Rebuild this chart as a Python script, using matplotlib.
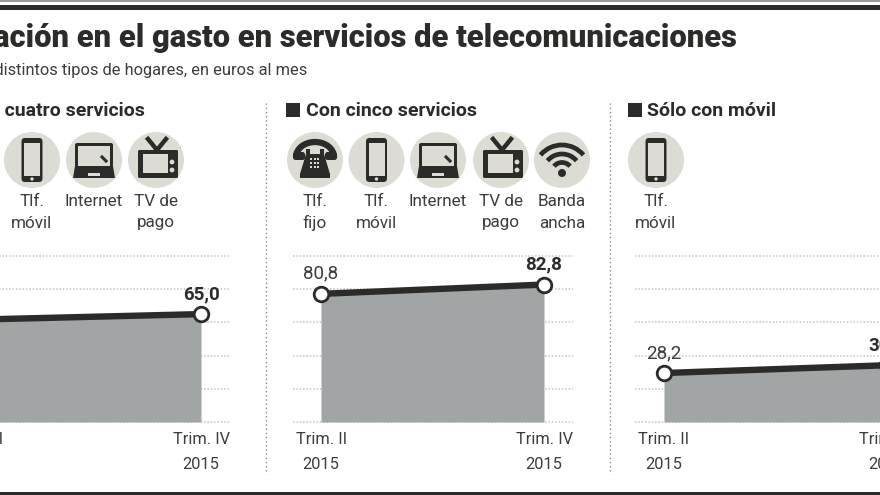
import matplotlib
matplotlib.use("Agg")
import matplotlib.pyplot as plt
from matplotlib.patches import Circle, Rectangle, FancyBboxPatch, Polygon, Arc

INK = "#2b2b29"
TXT = "#3c3c3a"
DISC = "#dcdcd5"
FILL = "#a1a5a5"
GRID = "#c4c4c4"

title = "Variación en el gasto en servicios de telecomunicaciones"
subtitle = "En distintos tipos de hogares, en euros al mes"
headings = ["Con cuatro servicios", "Con cinco servicios", "Sólo con móvil"]
periods = ["Trim. II", "Trim. IV"]
years = ["2015", "2015"]
grid_values = [0, 20, 40, 60, 80, 100]

# alturas, las etiquetas van aparte
heights_cuatro = [61.7, 65.0]
heights_cinco = [77.2, 82.8]
heights_movil = [29.5, 34.2]
labels_cuatro = ["61,7", "65,0"]
labels_cinco = ["80,8", "82,8"]
labels_movil = ["28,2", "30,8"]

W, H = 880, 495
Y0, Y100 = 422, 256

plt.rcParams["font.family"] = ["Roboto", "DejaVu Sans"]
fig = plt.figure(figsize=(8.8, 4.95), dpi=100)

# capa en pixeles para rotulos e iconos
bg = fig.add_axes([0, 0, 1, 1])
bg.set_xlim(0, W)
bg.set_ylim(H, 0)
bg.axis("off")


def phone(cx, cy):
    bg.add_patch(FancyBboxPatch((cx - 10.5, cy - 22), 21, 44, boxstyle="round,pad=0,rounding_size=3.5", fc=INK, ec="none"))
    bg.add_patch(Rectangle((cx - 8, cy - 17), 16, 33, fc=DISC, ec="none"))
    bg.add_patch(Circle((cx, cy + 19), 1.7, fc=DISC, ec="none"))


def laptop(cx, cy):
    bg.add_patch(FancyBboxPatch((cx - 19, cy - 17), 38, 24, boxstyle="round,pad=0,rounding_size=2", fc=INK, ec="none"))
    bg.add_patch(Rectangle((cx - 16, cy - 14), 32, 20, fc=DISC, ec="none"))
    bg.add_patch(Polygon([(cx - 19, cy + 6), (cx + 19, cy + 6), (cx + 21, cy + 18), (cx - 21, cy + 18)], fc=INK, ec="none"))
    bg.add_patch(Rectangle((cx - 6, cy + 13), 12, 3, fc=DISC, ec="none"))
    bg.plot([cx + 8, cx + 12], [cy - 3, cy + 1], color=INK, lw=2.2)


def tv(cx, cy):
    bg.add_patch(FancyBboxPatch((cx - 18, cy - 10), 40, 28, boxstyle="round,pad=0,rounding_size=1.5", fc=INK, ec="none"))
    bg.add_patch(Rectangle((cx - 13, cy - 6), 25, 19, fc=DISC, ec="none"))
    bg.plot([cx - 8, cx + 1], [cy - 21, cy - 10], color=INK, lw=3.2)
    bg.plot([cx + 10, cx + 1], [cy - 21, cy - 10], color=INK, lw=3.2)
    bg.add_patch(Circle((cx + 16, cy + 2), 2.4, fc=DISC, ec="none"))
    bg.add_patch(Circle((cx + 16, cy + 10), 2.4, fc=DISC, ec="none"))


def landline(cx, cy):
    # auricular
    bg.add_patch(Arc((cx, cy - 3), 38, 30, theta1=180, theta2=360, color=INK, lw=4.5))
    bg.add_patch(FancyBboxPatch((cx - 22, cy - 8), 12, 8, boxstyle="round,pad=0,rounding_size=2.5", fc=INK, ec="none"))
    bg.add_patch(FancyBboxPatch((cx + 10, cy - 8), 12, 8, boxstyle="round,pad=0,rounding_size=2.5", fc=INK, ec="none"))
    # base
    bg.add_patch(Rectangle((cx - 9, cy - 11), 4, 8, fc=INK, ec="none"))
    bg.add_patch(Rectangle((cx + 5, cy - 11), 4, 8, fc=INK, ec="none"))
    bg.add_patch(Polygon([(cx - 9, cy - 6), (cx + 9, cy - 6), (cx + 15, cy + 14), (cx + 15, cy + 18), (cx - 15, cy + 18), (cx - 15, cy + 14)], fc=INK, ec="none"))
    for dx in (-5, -1.5, 2):
        for dy in (-2, 2, 6):
            bg.add_patch(Rectangle((cx + dx, cy + dy), 2.2, 2.2, fc=DISC, ec="none"))


def wifi(cx, cy):
    for r in (28, 19, 10.5):
        bg.add_patch(Arc((cx, cy + 13), 2 * r, 2 * r, theta1=220, theta2=320, color=INK, lw=3.4))
    bg.add_patch(Circle((cx, cy + 13), 4, fc=INK, ec="none"))


icon_rows = [
    [(32, phone, ["Tlf.", "móvil"]), (94, laptop, ["Internet"]), (156, tv, ["TV de", "pago"])],
    [(315, landline, ["Tlf.", "fijo"]), (376.5, phone, ["Tlf.", "móvil"]), (438, laptop, ["Internet"]),
     (501, tv, ["TV de", "pago"]), (562, wifi, ["Banda", "ancha"])],
    [(656, phone, ["Tlf.", "móvil"])],
]
for row in icon_rows:
    for cx, draw, names in row:
        bg.add_patch(Circle((cx, 160), 28, fc=DISC, ec="none"))
        draw(cx, 160)
        for k, name in enumerate(names):
            bg.text(cx, 202 + 21 * k, name, ha="center", va="center", fontsize=12.3, color=TXT)

# filetes
bg.add_patch(Rectangle((0, 0), W, 2, fc="#9a9a9a", ec="none"))
bg.add_patch(Rectangle((0, 5), W, 4.5, fc=INK, ec="none"))
bg.add_patch(Rectangle((0, 492), W, 3, fc=INK, ec="none"))
for x in (265.5, 609.5):
    bg.plot([x, x], [103, 474], color="#8a8a8a", lw=1, ls=(0, (1, 2)))

bg.text(737, 38, title, ha="right", va="center", fontsize=22.2, fontweight=900, color=INK)
bg.text(307, 71, subtitle, ha="right", va="center", fontsize=11.8, color=TXT)

# rotulos de seccion
bg.text(145, 111, headings[0], ha="right", va="center", fontsize=14, fontweight="bold", color=INK)
bg.text(306, 111, headings[1], ha="left", va="center", fontsize=14, fontweight="bold", color=INK)
bg.text(647, 111, headings[2], ha="left", va="center", fontsize=14, fontweight="bold", color=INK)
bg.add_patch(Rectangle((286, 103), 14, 14, fc=INK, ec="none"))
bg.add_patch(Rectangle((628, 103), 14, 14, fc=INK, ec="none"))

# paneles: (x punto izq, x punto der, limite izq rejilla, limite der rejilla)
panels = [
    (-22, 201, -50, 230, heights_cuatro, labels_cuatro),
    (321, 544, 293, 573, heights_cinco, labels_cinco),
    (664, 887, 635, 916, heights_movil, labels_movil),
]
for x0, x1, gl, gr, heights, labels in panels:
    ax = fig.add_axes([gl / W, 1 - Y0 / H, (gr - gl) / W, (Y0 - Y100) / H])
    span = x1 - x0
    ax.set_xlim((gl - x0) / span, (gr - x0) / span)
    ax.set_ylim(0, 100)
    ax.axis("off")
    for g in grid_values:
        ax.axhline(g, color=GRID, lw=1.1, ls=(0, (1, 1.2)), zorder=1, clip_on=False)
    xs = [0, 1]
    ax.fill_between(xs, heights, 0, color=FILL, lw=0, zorder=2)
    ax.plot(xs, heights, color=INK, lw=4.6, zorder=3, solid_capstyle="butt")
    ax.plot(xs, heights, ls="none", marker="o", ms=10.5, mfc="white", mec=INK, mew=2, zorder=4, clip_on=False)
    for k in xs:
        ax.annotate(labels[k], (k, heights[k]), xytext=(0, 14.4), textcoords="offset points", ha="center", va="center",
                    fontsize=13.5, color=INK if k else TXT, fontweight="bold" if k else "normal", annotation_clip=False)
        ax.annotate(periods[k], (k, 0), xytext=(0, -12.3), textcoords="offset points", ha="center", va="center",
                    fontsize=11.8, color=TXT, annotation_clip=False)
        ax.annotate(years[k], (k, 0), xytext=(0, -30.8), textcoords="offset points", ha="center", va="center",
                    fontsize=11.8, color=TXT, annotation_clip=False)

fig.savefig("out.png", dpi=100)
